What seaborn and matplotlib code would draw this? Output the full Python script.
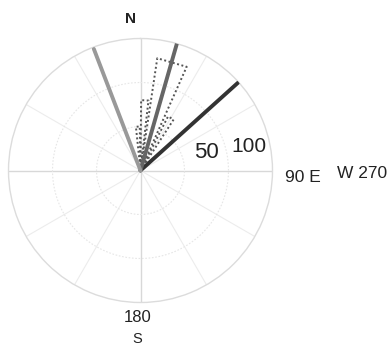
import numpy as np
import matplotlib
matplotlib.use("Agg")
import matplotlib.pyplot as plt
import seaborn as sns

# compass vectors (direction in degrees from north, length)
compass_dir = [48, 16, 339]
compass_len = [149, 150, 148]

# rose histogram bins (degrees) and counts
rose_lo = [-6, 0.5, 8.5, 27]
rose_hi = [-1, 6.5, 24, 33]
rose_count = [50, 80, 129, 69]

ring_values = [50, 100]
r_max = 150

sns.set_theme(style="white")
plt.rcParams['font.family'] = ['Liberation Sans', 'DejaVu Sans']

W, H = 388, 346
fig = plt.figure(figsize=(W / 100, H / 100), dpi=100)
cx, cy, rad = 140.5, 170.5, 132
ax = fig.add_axes([(cx - rad) / W, 1 - (cy + rad) / H, 2 * rad / W, 2 * rad / H],
                  projection='polar')
ax.set_theta_zero_location('N')
ax.set_theta_direction(-1)
ax.set_ylim(0, r_max)
ax.grid(False)
ax.set_xticklabels([])
ax.set_yticklabels([])
ax.spines['polar'].set_color('#dcdcdc')
ax.spines['polar'].set_linewidth(1.0)

# grid: spokes every 30 deg, dotted inner rings
for a in range(0, 360, 30):
    t = np.deg2rad(a)
    main = a % 90 == 0
    ax.plot([t, t], [0, r_max], color='#d8d8d8' if main else '#ececec',
            lw=1.0 if main else 0.8, zorder=1)
tt = np.linspace(0, 2 * np.pi, 361)
for rv in ring_values:
    ax.plot(tt, np.full_like(tt, rv), color='#e6e6e6', lw=0.8, ls=(0, (1.5, 1.5)), zorder=1)

# rose wedges (dotted)
for lo, hi, c in zip(rose_lo, rose_hi, rose_count):
    th = np.deg2rad([0, lo, hi, 0])
    ax.plot(th, [0, c, c, 0], color='#555555', lw=1.4, ls=(0, (1, 1.3)), zorder=2)

# compass lines
line_colors = ['#333333', '#666666', '#999999']
for d, l, col in zip(compass_dir, compass_len, line_colors):
    t = np.deg2rad(d)
    ax.plot([t, t], [0, l], color=col, lw=2.8, solid_capstyle='round', zorder=3)


def ftext(x, y, s, **kw):
    fig.text(x / W, 1 - y / H, s, **kw)


txt = '#222222'
ftext(131, 19, 'N', fontsize=11, fontweight='bold', ha='center', va='center', color=txt)
ftext(206, 153, '50', fontsize=16, ha='center', va='center', color=txt)
ftext(249, 146, '100', fontsize=15, ha='center', va='center', color=txt)
ftext(302.5, 177, '90 E', fontsize=12.5, ha='center', va='center', color=txt)
ftext(337, 173, 'W 270', fontsize=12.5, ha='left', va='center', color=txt)
ftext(137.5, 318, '180', fontsize=12, ha='center', va='center', color=txt)
ftext(137, 346, 'S', fontsize=10.5, ha='center', va='bottom', color=txt)

fig.savefig('out.png', dpi=100)
